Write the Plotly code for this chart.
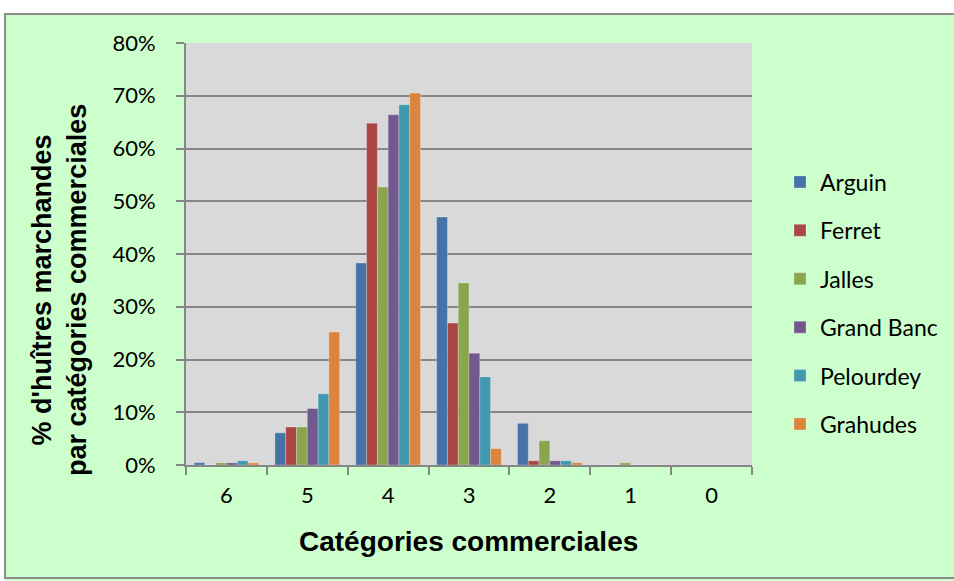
import plotly.graph_objects as go

# Commercial size categories (x axis, largest to smallest)
categories = ["6", "5", "4", "3", "2", "1", "0"]

# Share of marketable oysters per commercial category, in %
arguin = [0.45, 6.1, 38.3, 47.0, 7.9, 0.0, 0.0]
ferret = [0.0, 7.2, 64.8, 26.9, 0.8, 0.0, 0.0]
jalles = [0.4, 7.2, 52.7, 34.5, 4.6, 0.4, 0.0]
grand_banc = [0.4, 10.7, 66.4, 21.2, 0.8, 0.0, 0.0]
pelourdey = [0.8, 13.5, 68.3, 16.7, 0.8, 0.0, 0.0]
grahudes = [0.4, 25.2, 70.5, 3.1, 0.45, 0.0, 0.0]

series_names = ["Arguin", "Ferret", "Jalles", "Grand Banc", "Pelourdey", "Grahudes"]
series_values = [arguin, ferret, jalles, grand_banc, pelourdey, grahudes]
series_colors = ["#4572A7", "#AA4643", "#89A54E", "#71588F", "#4198AF", "#DB843D"]

y_ticks = [0, 10, 20, 30, 40, 50, 60, 70, 80]
y_tick_labels = [f"{v}%" for v in y_ticks]

W, H = 954, 581
L, R, T, B = 186, 202, 43, 116
PW, PH = W - L - R, H - T - B


def px_x(p):
    return (p - L) / PW


def px_y(q):
    return (H - B - q) / PH


fig = go.Figure()
for name, vals, col in zip(series_names, series_values, series_colors):
    fig.add_trace(go.Bar(
        name=name, x=categories, y=vals,
        marker=dict(color=col, line=dict(color="rgba(255,255,255,0.25)", width=1)),
        legendgroup=name,
    ))

grid_col = "#868686"
tick_font = dict(family="Lato", size=22, color="#000000")

fig.update_layout(
    width=W, height=H,
    margin=dict(l=L, r=R, t=T, b=B, autoexpand=False),
    paper_bgcolor="#CCFFCC",
    plot_bgcolor="#D9D9D9",
    barmode="group",
    bargap=0.2,
    bargroupgap=0,
    showlegend=True,
    legend=dict(
        x=px_x(780), y=px_y(303), xanchor="left", yanchor="middle",
        font=dict(family="Lato", size=23, color="#000000"),
        bgcolor="rgba(0,0,0,0)", tracegroupgap=15.5,
    ),
    xaxis=dict(
        type="category", categoryorder="array", categoryarray=categories,
        tickson="boundaries", ticks="outside", ticklen=8, tickwidth=2, tickcolor=grid_col,
        showline=True, linecolor=grid_col, linewidth=2,
        showgrid=False, tickfont=tick_font, ticklabelstandoff=10,
    ),
    yaxis=dict(
        range=[0, 80], tickmode="array", tickvals=y_ticks, ticktext=y_tick_labels,
        ticks="outside", ticklen=8, tickwidth=2, tickcolor=grid_col,
        showline=True, linecolor=grid_col, linewidth=2,
        showgrid=True, gridcolor=grid_col, gridwidth=2,
        zeroline=False, tickfont=tick_font, ticklabelstandoff=16,
    ),
    shapes=[
        # white margin above and to the left of the chart frame
        dict(type="rect", xref="paper", yref="paper", x0=px_x(-5), x1=px_x(W + 5),
             y0=px_y(14), y1=px_y(-5), fillcolor="white", line=dict(width=0), layer="below"),
        dict(type="rect", xref="paper", yref="paper", x0=px_x(-5), x1=px_x(5),
             y0=px_y(H + 5), y1=px_y(14), fillcolor="white", line=dict(width=0), layer="below"),
        # chart frame
        dict(type="rect", xref="paper", yref="paper", x0=px_x(5), x1=px_x(W + 10),
             y0=px_y(578), y1=px_y(14), line=dict(color="#8C8C8C", width=2), layer="below"),
    ],
    annotations=[
        dict(text="Catégories commerciales", xref="paper", yref="paper",
             x=px_x(468), y=px_y(541), xanchor="center", yanchor="middle", showarrow=False,
             font=dict(family="Liberation Sans", size=28, color="#000000", weight="bold")),
        dict(text="% d'huîtres marchandes<br>par catégories commerciales", xref="paper", yref="paper",
             x=px_x(59), y=px_y(290), xanchor="center", yanchor="middle", showarrow=False,
             textangle=-90,
             font=dict(family="Liberation Sans", size=27, color="#000000", weight="bold")),
    ],
)

fig.write_html("out.html")
